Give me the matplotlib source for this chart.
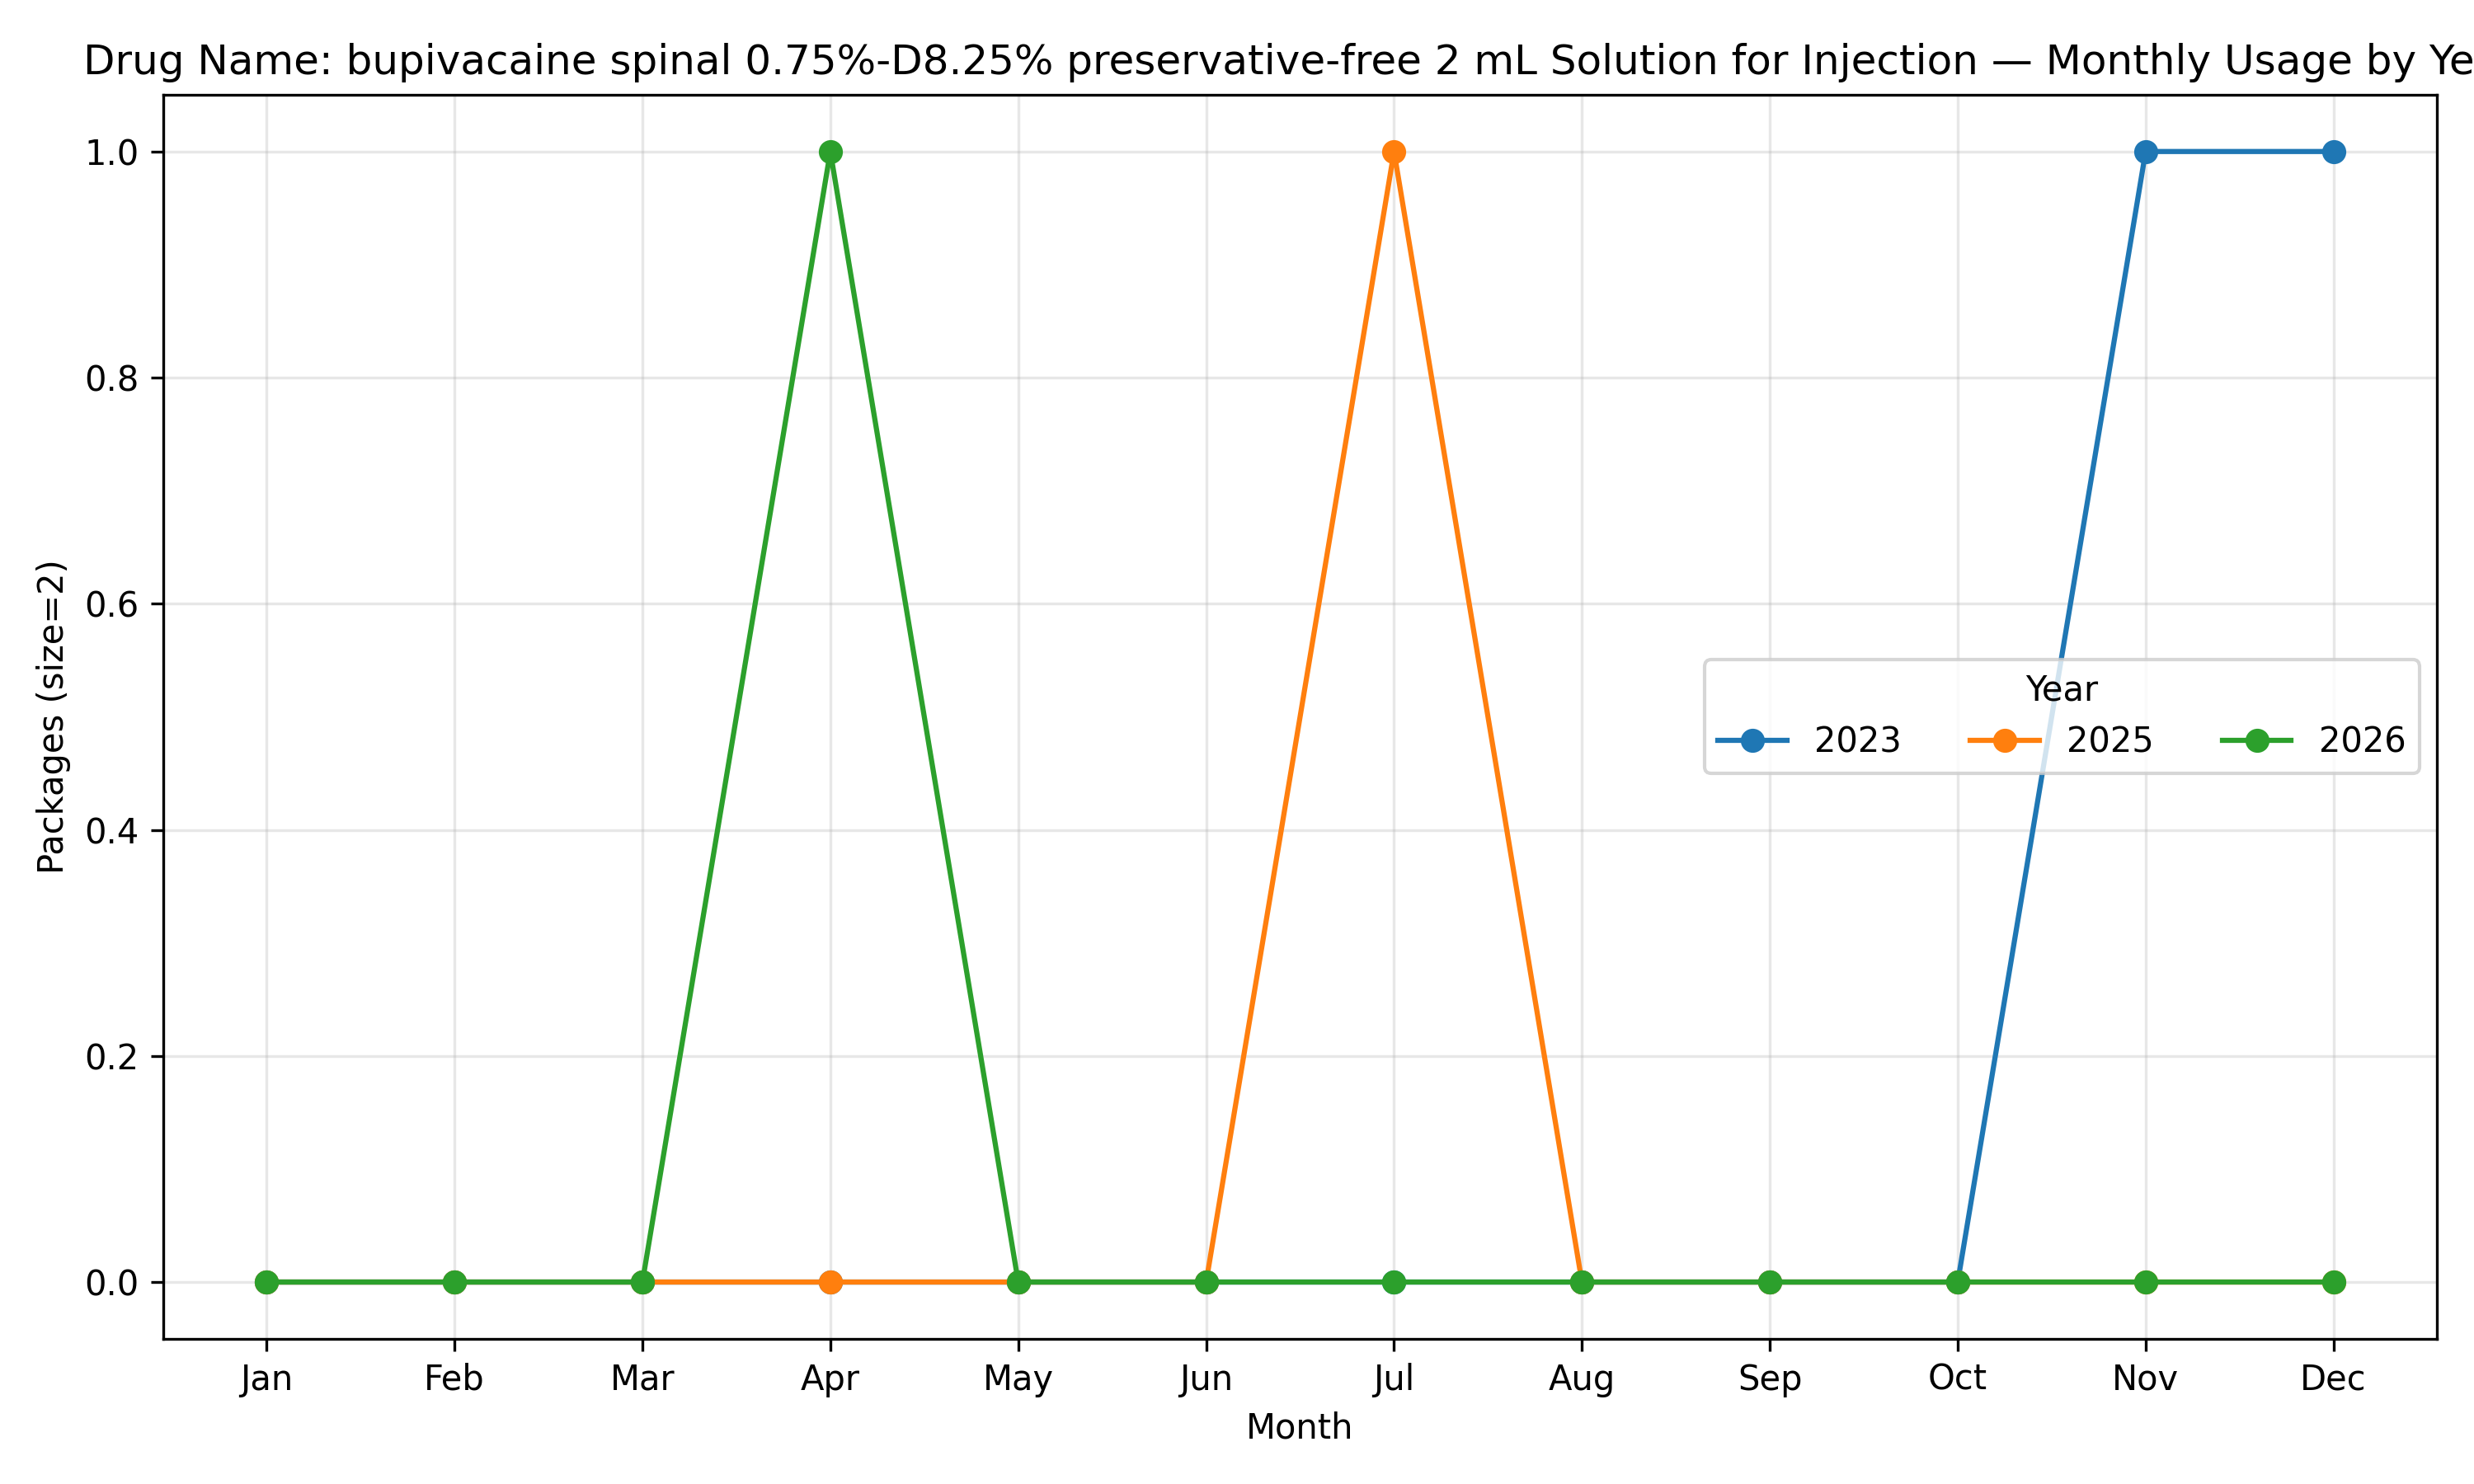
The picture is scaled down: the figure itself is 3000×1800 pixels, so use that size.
import matplotlib
matplotlib.use("Agg")
import matplotlib.pyplot as plt

months = ["Jan", "Feb", "Mar", "Apr", "May", "Jun",
          "Jul", "Aug", "Sep", "Oct", "Nov", "Dec"]
years = ["2023", "2025", "2026"]
usage_2023 = [0, 0, 0, 0, 0, 0, 0, 0, 0, 0, 1, 1]
usage_2025 = [0, 0, 0, 0, 0, 0, 1, 0, 0, 0, 0, 0]
usage_2026 = [0, 0, 0, 1, 0, 0, 0, 0, 0, 0, 0, 0]

title = ("Drug Name: bupivacaine spinal 0.75%-D8.25% preservative-free 2 mL "
         "Solution for Injection \u2014 Monthly Usage by Year")

fig, ax = plt.subplots(figsize=(10, 6), dpi=300)

# one line per year
for year, vals in zip(years, [usage_2023, usage_2025, usage_2026]):
    ax.plot(months, vals, marker="o", label=year)

ax.set_title(title)
ax.set_xlabel("Month")
ax.set_ylabel("Packages (size=2)")
ax.grid(True, alpha=0.3)
ax.legend(title="Year", ncol=3, loc="center right")

fig.subplots_adjust(left=0.066, right=0.985, top=0.936, bottom=0.098)
fig.savefig("out.png")
